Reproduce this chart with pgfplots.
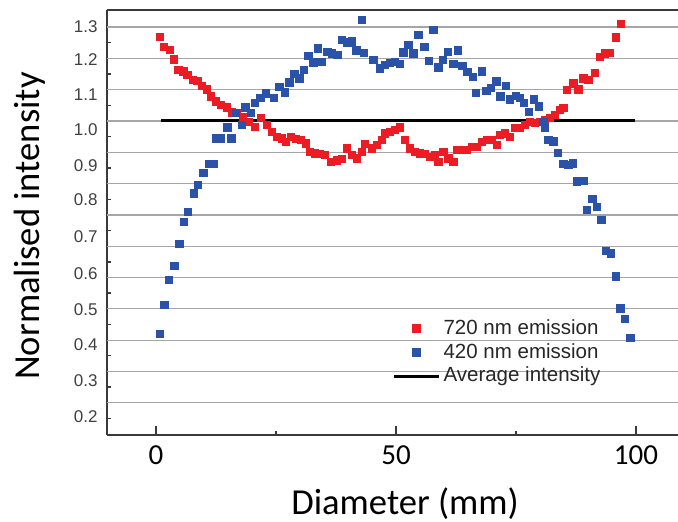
\documentclass[border=0pt]{standalone}
\usepackage{fontspec}
\setmainfont{Liberation Sans}
\newfontfamily\carlito{Carlito}
\usepackage{pgfplots}
\usepackage{pgfplotstable}
\pgfplotsset{compat=1.18}
\definecolor{emred}{HTML}{EC1C24}
\definecolor{emblue}{HTML}{2A52A8}
\definecolor{gridgray}{HTML}{A6A6A6}
\definecolor{axgray}{HTML}{3A3A3A}
\definecolor{labgray}{HTML}{404040}

\pgfplotsset{
  markleg/.style={legend image code/.code={%
    \draw[mark repeat=2,mark phase=2,##1] plot coordinates {(0pt,0pt)(11.25pt,0pt)(22.5pt,0pt)};}},
  lineleg/.style={legend image code/.code={%
    \draw[##1] (0pt,0pt) -- (22.5pt,0pt);}},
}

% 720 nm emission
\pgfplotstableread{
x y
0.83 1.269
1.67 1.237
2.92 1.227
3.75 1.197
4.65 1.163
5.69 1.158
6.52 1.147
7.65 1.131
8.60 1.129
9.52 1.112
10.56 1.101
11.40 1.078
12.50 1.062
13.48 1.051
14.73 1.044
15.77 1.028
16.81 1.025
18.06 1.012
19.23 0.998
20.63 0.982
21.81 1.009
23.06 0.987
24.10 0.966
25.15 0.950
26.19 0.945
27.08 0.934
28.06 0.950
29.17 0.942
30.15 0.939
31.25 0.929
32.08 0.902
33.13 0.897
34.17 0.895
35.21 0.891
36.40 0.870
37.65 0.874
38.69 0.878
39.73 0.913
40.77 0.891
41.81 0.881
42.85 0.902
43.54 0.927
44.94 0.913
45.98 0.923
47.02 0.939
47.71 0.961
48.75 0.966
49.79 0.971
50.83 0.979
51.88 0.939
52.92 0.913
53.96 0.902
55.00 0.897
56.04 0.895
57.08 0.886
58.13 0.891
58.81 0.870
59.85 0.902
60.90 0.881
61.94 0.870
62.65 0.907
63.69 0.907
64.73 0.907
65.77 0.918
66.81 0.918
67.85 0.934
68.90 0.939
69.94 0.939
70.98 0.923
71.67 0.955
72.71 0.961
73.75 0.950
74.79 0.977
75.83 0.977
76.88 0.987
77.92 0.998
78.96 0.993
80.00 0.998
81.04 1.003
82.08 1.009
83.13 1.019
84.17 1.035
84.85 1.041
85.56 1.099
86.94 1.120
87.98 1.101
89.02 1.136
90.06 1.131
91.46 1.154
92.50 1.205
93.54 1.216
94.58 1.218
95.83 1.267
96.81 1.310
}\redtable

% 420 nm emission
\pgfplotstableread{
x y
0.83 0.319
1.73 0.412
2.71 0.492
3.81 0.538
4.85 0.607
5.83 0.678
6.67 0.710
7.92 0.769
8.75 0.796
9.90 0.835
11.04 0.863
12.08 0.863
12.60 0.945
13.54 0.945
14.90 0.979
15.73 0.944
16.67 1.025
17.85 0.987
18.65 1.043
19.73 1.025
20.63 1.057
21.77 1.073
22.85 1.088
24.58 1.073
25.73 1.109
26.88 1.091
27.77 1.123
28.85 1.150
29.85 1.136
30.83 1.163
31.73 1.207
32.77 1.187
33.75 1.232
34.58 1.189
35.73 1.221
36.67 1.216
37.81 1.211
38.69 1.259
39.90 1.251
40.83 1.254
41.77 1.225
42.85 1.323
43.33 1.217
45.27 1.196
46.67 1.168
47.71 1.179
48.75 1.185
49.79 1.188
50.83 1.182
51.52 1.219
52.60 1.243
53.65 1.216
54.69 1.275
55.90 1.237
56.81 1.192
57.77 1.291
58.81 1.171
59.75 1.195
60.83 1.221
61.94 1.182
62.92 1.226
63.85 1.176
64.85 1.157
66.00 1.141
66.67 1.089
67.92 1.158
68.81 1.096
69.79 1.105
70.88 1.126
71.77 1.078
72.85 1.113
73.75 1.069
74.94 1.081
75.83 1.073
76.67 1.057
77.71 1.030
78.75 1.069
79.79 1.046
80.69 0.998
81.04 0.977
81.77 0.939
82.77 0.935
83.75 0.899
84.85 0.863
85.90 0.859
86.88 0.864
87.65 0.807
89.02 0.808
89.73 0.716
90.94 0.752
91.81 0.725
92.77 0.685
93.71 0.586
94.79 0.577
95.83 0.503
96.77 0.402
97.71 0.367
98.85 0.308
}\bluetable

\begin{document}
\begin{tikzpicture}
\begin{axis}[
  scale only axis,
  width=285.5pt, height=212.5pt,
  xmin=-10.21, xmax=108.75,
  ymin=-0.003, ymax=1.3546,
  axis lines=left,
  axis line style={-, axgray, line width=0.8pt},
  tick align=inside,
  tick style={axgray, line width=0.7pt},
  /pgf/number format/assume math mode=true,
  xtick={0,50,100},
  minor xtick={25,75},
  major tick length=4.7pt,
  minor tick length=2.2pt,
  xticklabel style={font=\carlito\fontsize{14.5}{16}\selectfont, text=black, yshift=-1.7pt},
  ytick={1.301,1.197,1.083,0.971,0.857,0.748,0.630,0.511,0.396,0.284,0.170,0.055},
  yticklabels={1.3,1.2,1.1,1.0,0.9,0.8,0.7,0.6,0.5,0.4,0.3,0.2},
  yticklabel style={font=\fontsize{8.5}{10}\selectfont, text=labgray, xshift=-1.2pt},
  major y tick style={draw=none},
  minor ytick={0.05,0.15,0.25,0.35,0.45,0.55,0.65,0.75,0.85,0.95,1.05,1.15,1.25},
  extra y ticks={0.1,0.2,0.3,0.4,0.5,0.6,0.7,0.8,0.9,1.0,1.1,1.2,1.3},
  extra y tick labels={},
  extra y tick style={grid=major, major tick length=0pt,
    major grid style={gridgray, line width=0.6pt}},
  xlabel={Diameter (mm)},
  ylabel={Normalised intensity},
  xlabel style={font=\carlito\fontsize{18.3}{21}\selectfont,
    at={(axis description cs:0.522,-0.188)}, anchor=base},
  ylabel style={font=\carlito\fontsize{18.3}{21}\selectfont,
    at={(axis description cs:-0.1182,0.4918)}, anchor=base},
  legend style={draw=none, fill=none, at={(axis cs:49.2,0.377)}, anchor=north west,
    font=\fontsize{10.25}{12}\selectfont, text=black!85, row sep=0pt,
    inner sep=0pt, nodes={inner sep=1.5pt}},
  legend cell align=left,
]
\addplot[only marks, mark=square*, mark size=1.85pt, color=emred, markleg]
  table[x=x,y=y] {\redtable};
\addlegendentry{720 nm emission}
\addplot[only marks, mark=square*, mark size=1.85pt, color=emblue, markleg]
  table[x=x,y=y] {\bluetable};
\addlegendentry{420 nm emission}
\addplot[black, line width=1.5pt, lineleg]
  coordinates {(1.04,1) (99.8,1)};
\addlegendentry{Average intensity}
\draw[axgray, line width=1pt] (rel axis cs:0,1) -- (rel axis cs:1,1);
\coordinate (BL) at (rel axis cs:0,0);
\coordinate (TR) at (rel axis cs:1,1);
\end{axis}
\pgfresetboundingbox
\path[use as bounding box] ([xshift=-53.5pt,yshift=-43.5pt]BL) rectangle ([yshift=5pt]TR);
\end{tikzpicture}
\end{document}
